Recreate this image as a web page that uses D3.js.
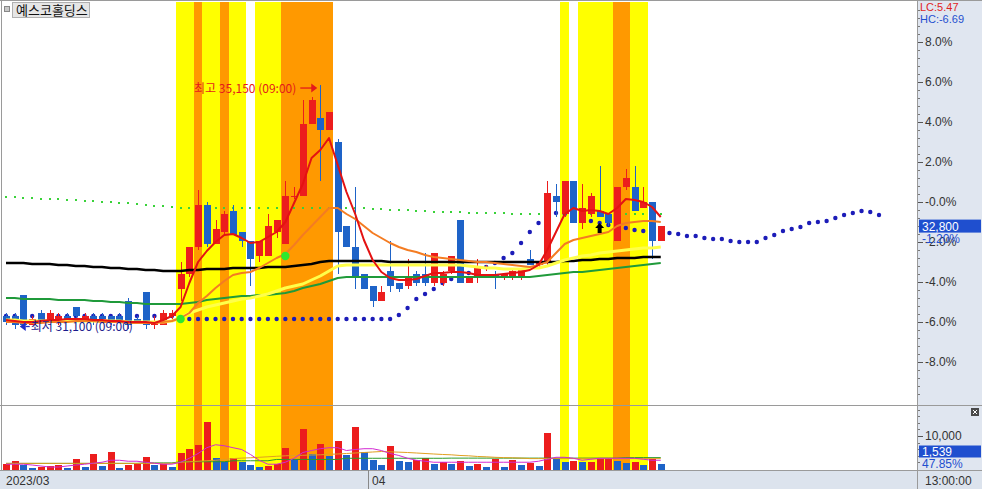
<!DOCTYPE html>
<html><head><meta charset="utf-8">
<script src="https://cdn.jsdelivr.net/npm/d3@7/dist/d3.min.js"></script>
<style>
html,body{margin:0;padding:0;background:#fff;overflow:hidden}
svg{display:block}
text{font-family:"Liberation Sans","Noto Sans CJK KR",sans-serif}
</style></head>
<body>
<svg id="chart" width="982" height="489"></svg>
<script>
const stockName = "예스코홀딩스";
const basePrice = 33200;
const lastPrice = 32800;
const lastVolume = 1539;
const lcText = "LC:5.47", hcText = "HC:-6.69";
const changeText = "-1.20%", volRatioText = "47.85%";
const timeLabel = "13:00:00";
const monthStarts = [{i:0, label:"2023/03"}, {i:42, label:"04"}];
const annTime = "(09:00)";

const opens = [31300,31300,31650,31150,31350,31200,31200,31300,31450,31250,31300,31300,31300,31300,31550,31250,31700,31150,31150,31300,
31750,32000,32450,33150,32500,32700,33050,32700,32550,32300,32300,32700,32500,33300,33300,34500,34600,34400,34200,32800,
32450,32000,31800,31550,32050,31850,31800,32000,32000,31850,31850,32050,32900,31850,31950,32100,32000,31950,31950,31950,
32250,32150,32200,33300,33000,33550,32850,33000,33050,33000,32550,33450,33450,33100,33200,32550];
const highs = [31350,31350,31650,31300,31400,31400,31350,31350,31450,31350,31350,31350,31300,31350,31600,31300,31700,31300,31400,31400,
32200,32450,33400,33200,32900,33050,33150,32700,32550,32550,33000,32900,33550,33450,34900,34950,35150,34700,34250,32800,
33450,32000,31800,31800,32550,31850,32250,32050,32350,32350,32050,32300,32900,31950,32250,32150,32050,32000,32100,32100,
32400,32200,33550,33500,33550,33550,33500,33350,33800,33000,33450,33750,33800,33450,33200,32800];
const lows = [31150,31100,31100,31150,31200,31200,31150,31250,31250,31250,31150,31200,31150,31200,31100,31200,31100,31100,31150,31250,
31550,31950,32400,32450,32500,32650,32650,32450,31800,32200,32300,32600,32500,33250,33300,34500,33550,34400,32000,32450,
31750,31750,31450,31550,31700,31700,31750,31800,31800,31800,31800,32000,31850,31850,31850,32050,31750,31900,31900,31900,
32150,32100,32150,32950,32950,32850,32750,32950,32950,32800,32550,33400,33050,33100,32250,32550];
const closes = [31200,31150,31150,31250,31200,31350,31300,31250,31300,31300,31200,31250,31200,31200,31150,31200,31150,31200,31350,31350,
32000,32450,33150,32500,32750,33000,32650,32550,32250,32550,32800,32900,33300,33300,34500,34900,34400,34700,32700,32450,
31950,31750,31550,31700,31800,31750,31950,31850,31850,32350,32000,32300,31850,31950,32100,32100,31950,32000,32050,32100,
32150,32200,33350,33200,33550,32850,33100,33300,32950,32850,33450,33600,33050,33200,32550,32800];
const volumes = [1400,2350,1200,400,500,1000,1200,400,2950,700,4600,900,5300,200,1200,1650,3500,1200,1400,700,
4900,6100,7250,14100,3350,2150,3350,2150,1200,500,1000,1400,6300,3150,12250,4600,7550,3900,8500,4100,
12650,5100,2650,1200,7050,2350,2150,2650,3400,1500,2150,1650,2350,900,1500,500,3150,500,2850,1200,
1950,900,10800,3350,2150,2300,2000,2200,3000,3200,2300,1700,2200,1300,3000,1539];
// 0 = none, 1 = yellow signal, 2 = orange signal
const signal = [0,0,0,0,0,0,0,0,0,0,0,0,0,0,0,0,0,0,0,0,
1,1,2,1,1,2,1,1,0,1,1,1,2,2,2,2,2,2,0,0,
0,0,0,0,0,0,0,0,0,0,0,0,0,0,0,0,0,0,0,0,
0,0,0,0,1,0,1,1,1,1,2,2,1,1,0,0];

// moving averages, read in % of base price (axis units)
const ma5Pct = [-5.90,-5.95,-6.00,-6.00,-5.95,-5.90,-5.90,-5.85,-5.85,-5.85,-5.90,-5.90,-5.95,-5.95,-6.00,-6.00,-6.00,-6.05,-5.90,-5.70,
-5.25,-4.05,-3.00,-2.45,-2.00,-1.65,-1.60,-1.80,-2.05,-2.00,-1.75,-1.50,-1.00,-0.05,0.90,2.20,2.60,3.20,1.85,0.50,
-0.60,-1.90,-2.90,-3.50,-3.80,-3.90,-3.90,-3.85,-3.70,-3.55,-3.55,-3.50,-3.50,-3.55,-3.65,-3.65,-3.65,-3.60,-3.55,-3.50,
-3.40,-3.15,-2.40,-1.50,-0.60,-0.30,-0.45,-0.40,-0.45,-0.60,-0.30,0.15,0.10,0.00,-0.25,-0.75];
const ma10Pct = [-6.00,-6.00,-6.05,-6.05,-6.05,-6.00,-6.00,-6.00,-5.95,-5.95,-5.95,-6.00,-6.00,-6.00,-6.05,-6.05,-6.05,-6.05,-6.00,-5.95,
-5.80,-5.55,-5.05,-4.70,-4.30,-3.95,-3.65,-3.55,-3.50,-3.30,-3.05,-2.80,-2.60,-2.15,-1.65,-1.20,-0.75,-0.30,-0.30,-0.60,
-0.85,-1.20,-1.55,-1.80,-2.05,-2.25,-2.40,-2.50,-2.65,-2.75,-2.80,-2.85,-2.90,-2.95,-3.00,-3.00,-3.05,-3.10,-3.15,-3.20,
-3.25,-3.15,-3.00,-2.55,-2.10,-1.90,-1.80,-1.70,-1.60,-1.50,-1.20,-1.05,-1.00,-0.95,-0.95,-1.00];
const ma20Pct = [-5.90,-5.90,-5.95,-5.95,-5.95,-5.95,-5.95,-5.95,-5.95,-5.95,-5.95,-5.95,-5.95,-5.95,-6.00,-6.00,-6.00,-6.00,-6.00,-5.95,
-5.80,-5.55,-5.40,-5.25,-5.15,-5.05,-4.95,-4.85,-4.80,-4.70,-4.60,-4.45,-4.30,-4.20,-4.10,-3.90,-3.70,-3.45,-3.20,-3.15,
-3.15,-3.15,-3.15,-3.15,-3.15,-3.15,-3.15,-3.15,-3.15,-3.15,-3.15,-3.15,-3.15,-3.20,-3.25,-3.30,-3.30,-3.35,-3.35,-3.35,
-3.30,-3.30,-3.20,-3.05,-2.90,-2.80,-2.70,-2.65,-2.55,-2.50,-2.45,-2.40,-2.35,-2.30,-2.30,-2.25];
const ma60Pct = [-4.80,-4.80,-4.85,-4.85,-4.85,-4.85,-4.90,-4.90,-4.90,-4.90,-4.95,-4.95,-5.00,-5.00,-5.05,-5.05,-5.10,-5.10,-5.10,-5.10,
-5.10,-5.05,-5.00,-4.90,-4.85,-4.80,-4.75,-4.70,-4.70,-4.65,-4.65,-4.60,-4.55,-4.45,-4.30,-4.20,-4.10,-3.95,-3.80,-3.75,
-3.75,-3.75,-3.75,-3.75,-3.75,-3.75,-3.75,-3.75,-3.75,-3.75,-3.75,-3.75,-3.75,-3.75,-3.75,-3.75,-3.75,-3.75,-3.75,-3.75,
-3.75,-3.70,-3.65,-3.60,-3.55,-3.50,-3.50,-3.45,-3.40,-3.35,-3.30,-3.25,-3.20,-3.15,-3.10,-3.05];
const ma120Pct = [-3.05,-3.05,-3.05,-3.10,-3.10,-3.10,-3.15,-3.15,-3.20,-3.20,-3.25,-3.25,-3.30,-3.30,-3.35,-3.35,-3.40,-3.40,-3.45,-3.45,
-3.45,-3.40,-3.40,-3.35,-3.35,-3.35,-3.30,-3.30,-3.30,-3.30,-3.25,-3.25,-3.25,-3.20,-3.15,-3.10,-3.00,-2.95,-2.95,-2.95,
-2.95,-2.95,-2.95,-2.95,-3.00,-3.00,-3.00,-3.00,-3.00,-3.00,-3.00,-3.00,-3.00,-3.00,-3.00,-3.00,-3.00,-3.00,-3.00,-3.00,
-3.00,-3.00,-3.00,-3.00,-2.95,-2.95,-2.90,-2.90,-2.85,-2.85,-2.80,-2.80,-2.80,-2.75,-2.75,-2.75];
const greenDotPct = [0.25,0.23,0.21,0.19,0.17,0.15,0.13,0.11,0.09,0.07,0.05,0.02,-0.01,-0.04,-0.07,-0.10,-0.14,-0.18,-0.22,-0.26,
-0.30,-0.30,-0.30,-0.30,-0.30,-0.30,-0.30,-0.30,-0.30,-0.30,-0.30,-0.30,-0.30,-0.30,-0.30,-0.30,-0.30,-0.30,-0.30,-0.30,
-0.30,-0.32,-0.34,-0.36,-0.38,-0.40,-0.42,-0.44,-0.46,-0.48,-0.50,-0.51,-0.52,-0.53,-0.54,-0.55,-0.56,-0.57,-0.58,-0.59,
-0.60,-0.60,-0.60,-0.60,-0.60,-0.60,-0.60,-0.60,-0.60,-0.60,-0.60,-0.60,-0.60,-0.60,-0.60,-0.60];
const blueDotPct = [-5.70,-5.70,-5.70,-5.70,-5.70,-5.70,-5.70,-5.70,-5.70,-5.70,-5.70,-5.70,-5.70,-5.70,-5.70,-5.70,-5.70,-5.70,-5.70,-5.70,
-5.85,-5.85,-5.85,-5.85,-5.85,-5.85,-5.85,-5.85,-5.85,-5.85,-5.85,-5.85,-5.85,-5.85,-5.85,-5.85,-5.85,-5.85,-5.85,-5.85,
-5.85,-5.85,-5.85,-5.85,-5.85,-5.65,-5.30,-4.85,-4.60,-4.35,-4.05,-3.85,-3.70,-3.55,-3.40,-3.25,-3.05,-2.80,-2.55,-2.05,
-1.50,-1.05,-0.70,-0.55,-0.60,-0.70,-0.80,-0.95,-1.05,-1.15,-1.25,-1.30,-1.40,-1.45,-1.50,-1.50,
-1.55,-1.60,-1.70,-1.70,-1.80,-1.85,-1.85,-1.95,-2.00,-2.00,-2.00,-1.80,-1.65,-1.45,-1.35,-1.25,-1.05,-1.00,-0.95,-0.80,
-0.65,-0.55,-0.45,-0.50,-0.65];
const greenSignals = [{i:20, pct:-5.85}, {i:32, pct:-2.70}];
const arrowSignals = [{i:68, pct:-1.05}];

// volume moving averages (shares)
const volMa5 = [1450,1450,1450,1200,900,600,600,900,1200,1450,1750,2050,2650,2650,2350,2350,2050,1750,1450,1450,
2050,3250,4700,6450,7350,7050,6450,5900,4400,2650,1450,1450,2050,3250,5000,5600,6150,6450,6450,5600,
5900,6150,6150,5600,4700,4100,3250,2650,2350,2050,2050,2050,2050,2050,2050,2050,2050,2050,2050,2050,
2050,2350,2950,3550,3550,3250,2650,2950,3250,3250,3250,3250,3250,2950,2650,2650];
const volMa20 = [1700,1700,1700,1700,1700,1700,1700,1700,1700,1700,1700,1700,1700,1700,1700,1700,1700,1700,1700,1700,
2050,2200,2350,2500,2650,2900,3150,3300,3400,3550,3700,3850,4000,4100,4150,4250,4300,4450,4550,4700,
4850,5000,5150,5300,5200,5100,5000,4850,4700,4550,4400,4300,4100,4000,3800,3700,3550,3450,3400,3300,
3150,3150,3150,3150,3150,3150,3150,3150,3150,3150,3150,3150,3150,3150,3150,3150];
const volMa60 = [1700,1700,1700,1700,1700,1700,1700,1700,1700,1700,1700,1700,1700,1700,1700,1700,1850,1850,1850,1850,
2200,2200,2200,2200,2200,2200,2500,2500,2500,2500,2500,2900,2900,2900,2900,2900,2900,2900,2900,3250,
3250,3250,3250,3250,3250,3250,3250,3250,3250,3250,3250,3300,3300,3300,3300,3300,3300,3300,3300,3300,
3300,3300,3300,3300,3300,3300,3300,3300,3300,3300,3300,3450,3450,3450,3450,3450];

const pctTicks = [8,6,4,2,0,-2,-4,-6,-8];
const pctTickLabels = ["8.0%","6.0%","4.0%","2.0%","-0.0%","-2.0%","-4.0%","-6.0%","-8.0%"];
const volTicks = [10000];
const volTickLabels = ["10,000"];

// ---------- drawing ----------
const W = 982, H = 489;
const R = 917, PT = 2, PB = 405, VT = 406, VB = 469, AT = 470;
const RED = "#ec1d1d", BLUE = "#1e63c8", NAVY = "#1c1cb8", AXBG = "#e0e6f0";
const svg = d3.select("#chart");

const x = d3.scaleLinear().domain([0, 100]).range([6, 879]);
const step = x(1) - x(0);
const yPct = d3.scaleLinear().domain([-10, 10]).range([402, 2]);
const pctOf = p => (p / basePrice - 1) * 100;
const yP = p => yPct(pctOf(p));
const yV = d3.scaleLinear().domain([0, 10000]).range([VB, 436]);
const N = closes.length;
const idx = d3.range(N);
const fmt = d3.format(",");

svg.append("rect").attr("width", W).attr("height", H).attr("fill", "#fff");
svg.append("rect").attr("x", R + 1).attr("y", 0).attr("width", W - R - 1).attr("height", H).attr("fill", AXBG);
svg.append("rect").attr("x", 0).attr("y", AT).attr("width", W).attr("height", H - AT).attr("fill", "#dce3ed");

const defs = svg.append("defs");
defs.append("clipPath").attr("id", "cp").append("rect").attr("x", 2).attr("y", PT).attr("width", R - 2).attr("height", PB - PT);
defs.append("clipPath").attr("id", "cv").append("rect").attr("x", 2).attr("y", VT).attr("width", R - 2).attr("height", VB - VT + 1);

// signal bands
const bandColor = {1: "#ffff00", 2: "#ff9900"};
const gBand = svg.append("g").attr("shape-rendering", "crispEdges");
idx.filter(i => signal[i] > 0).forEach(i => {
  const x0 = Math.round(x(i) - step / 2), x1 = Math.round(x(i) + step / 2);
  gBand.append("rect").attr("x", x0).attr("y", PT).attr("width", x1 - x0).attr("height", PB - PT).attr("fill", bandColor[signal[i]]);
  gBand.append("rect").attr("x", x0).attr("y", VT).attr("width", x1 - x0).attr("height", VB - VT + 1).attr("fill", bandColor[signal[i]]);
});

const gP = svg.append("g").attr("clip-path", "url(#cp)");
// dotted indicators (under candles)
gP.append("g").selectAll("rect").data(greenDotPct).join("rect")
  .attr("x", (d, i) => Math.round(x(i)) - 1).attr("y", d => Math.round(yPct(d)) - 1)
  .attr("width", 2).attr("height", 2).attr("fill", "#39d239");
gP.append("g").selectAll("circle").data(blueDotPct).join("circle")
  .attr("cx", (d, i) => x(i)).attr("cy", d => yPct(d)).attr("r", 2.2).attr("fill", NAVY);

// candles
const gC = gP.append("g").attr("shape-rendering", "crispEdges");
idx.forEach(i => {
  const cx = Math.round(x(i));
  const col = closes[i] >= opens[i] ? RED : BLUE;
  const yh = Math.round(yP(highs[i])), yl = Math.round(yP(lows[i]));
  gC.append("rect").attr("x", cx).attr("y", yh).attr("width", 1).attr("height", Math.max(1, yl - yh)).attr("fill", col);
  const yo = yP(opens[i]), yc = yP(closes[i]);
  const top = Math.round(Math.min(yo, yc)), hgt = Math.max(1, Math.round(Math.abs(yo - yc)));
  gC.append("rect").attr("x", cx - 3).attr("y", top).attr("width", 7).attr("height", hgt).attr("fill", col);
});

// moving-average lines (over candles)
const line = d3.line().x((d, i) => x(i)).y(d => yPct(d));
[[ma120Pct, "#000000", 2.4], [ma60Pct, "#1f9a3a", 2], [ma20Pct, "#ffff4a", 3], [ma10Pct, "#f47c22", 2], [ma5Pct, "#e41212", 2]]
  .forEach(([data, col, w]) => {
    gP.append("path").datum(data).attr("d", line).attr("fill", "none").attr("stroke", col).attr("stroke-width", w).attr("stroke-linejoin", "round");
  });

// signal markers
gP.append("g").selectAll("path").data(greenSignals).join("path")
  .attr("d", d3.symbol(d3.symbolCircle, 55)).attr("transform", d => `translate(${x(d.i)},${yPct(d.pct)})`)
  .attr("fill", "#2ee82e");
arrowSignals.forEach(s => {
  const ax = x(s.i), ay = yPct(s.pct);
  gP.append("path").attr("d", `M${ax},${ay} L${ax + 4.5},${ay + 5} L${ax + 2},${ay + 5} L${ax + 2},${ay + 10} L${ax - 2},${ay + 10} L${ax - 2},${ay + 5} L${ax - 4.5},${ay + 5} Z`)
    .attr("fill", "#000");
});

// high / low annotations
const iMax = d3.maxIndex(highs), iMin = d3.minIndex(lows);
const hx = x(iMax), hy = yP(highs[iMax]) + 3.5;
gP.append("text").attr("x", hx - 24).attr("y", hy + 4.5).attr("text-anchor", "end")
  .attr("font-size", 12).attr("fill", "#e41a1a").style("font-family", "'Noto Sans CJK KR'")
  .text(`최고 ${fmt(highs[iMax])} ${annTime}`);
gP.append("line").attr("x1", hx - 20).attr("x2", hx - 7).attr("y1", hy).attr("y2", hy).attr("stroke", "#e41a1a").attr("stroke-width", 1.3);
gP.append("path").attr("d", `M${hx - 3},${hy} L${hx - 9},${hy - 4.5} L${hx - 9},${hy + 4.5} Z`).attr("fill", "#e41a1a");
const lx = x(iMin) + 5, ly = yP(lows[iMin]) - 2;
gP.append("path").attr("d", `M${lx},${ly} L${lx + 6},${ly - 4.5} L${lx + 6},${ly + 4.5} Z`).attr("fill", "#2030c8");
gP.append("line").attr("x1", lx + 6).attr("x2", lx + 10).attr("y1", ly).attr("y2", ly).attr("stroke", "#2030c8").attr("stroke-width", 1.3);
gP.append("text").attr("x", lx + 11).attr("y", ly + 4.5).attr("font-size", 12).attr("fill", "#1a1a8c")
  .style("font-family", "'Noto Sans CJK KR'").text(`최저 ${fmt(lows[iMin])} ${annTime}`);

// volume panel
const gV = svg.append("g").attr("clip-path", "url(#cv)");
gV.append("g").attr("shape-rendering", "crispEdges").selectAll("rect").data(volumes).join("rect")
  .attr("x", (d, i) => Math.round(x(i)) - 3).attr("y", d => Math.round(yV(d)))
  .attr("width", 7).attr("height", d => VB + 1 - Math.round(yV(d)))
  .attr("fill", (d, i) => (i === 0 || d >= volumes[i - 1]) ? RED : BLUE);
const vline = d3.line().x((d, i) => x(i)).y(d => yV(d));
[[volMa60, "#2a9a2a"], [volMa20, "#e0a020"], [volMa5, "#d22ad2"]].forEach(([data, col]) => {
  gV.append("path").datum(data).attr("d", vline).attr("fill", "none").attr("stroke", col).attr("stroke-width", 1);
});

// frame lines
const gF = svg.append("g").attr("shape-rendering", "crispEdges").attr("stroke", "#9a9a9a");
gF.append("line").attr("x1", 0).attr("x2", W).attr("y1", PB + 0.5).attr("y2", PB + 0.5);
gF.append("line").attr("x1", 0).attr("x2", W).attr("y1", AT + 0.5).attr("y2", AT + 0.5);
gF.append("line").attr("x1", R + 0.5).attr("x2", R + 0.5).attr("y1", 0).attr("y2", H);
gF.append("line").attr("x1", 1.5).attr("x2", 1.5).attr("y1", 0).attr("y2", AT);
gF.append("line").attr("x1", 0).attr("x2", W).attr("y1", 0.5).attr("y2", 0.5);

// price axis
const yAx = svg.append("g").attr("transform", `translate(${R + 1},0)`)
  .call(d3.axisRight(yPct).tickValues(pctTicks).tickSize(5).tickPadding(2).tickFormat((d, i) => pctTickLabels[i]));
yAx.select(".domain").remove();
yAx.selectAll("line").attr("stroke", "#555");
yAx.selectAll("text").attr("font-size", 12).attr("fill", "#333").style("font-family", "'Liberation Sans'");
const minor = d3.range(-9.6, 10, 0.4).filter(v => Math.abs(v / 2 - Math.round(v / 2)) > 0.01);
svg.append("g").selectAll("line").data(minor).join("line")
  .attr("x1", R + 1).attr("x2", R + 3).attr("y1", d => Math.round(yPct(d)) + 0.5).attr("y2", d => Math.round(yPct(d)) + 0.5)
  .attr("stroke", "#777");

// volume axis
const vAx = svg.append("g").attr("transform", `translate(${R + 1},0)`)
  .call(d3.axisRight(yV).tickValues(volTicks).tickSize(5).tickPadding(2).tickFormat((d, i) => volTickLabels[i]));
vAx.select(".domain").remove();
vAx.selectAll("line").attr("stroke", "#555");
vAx.selectAll("text").attr("font-size", 12).attr("fill", "#333").style("font-family", "'Liberation Sans'");
svg.append("g").selectAll("line").data(d3.range(2000, 18001, 2000).filter(v => v !== 10000 && yV(v) > VT + 2))
  .join("line").attr("x1", R + 1).attr("x2", R + 3).attr("y1", d => Math.round(yV(d)) + 0.5).attr("y2", d => Math.round(yV(d)) + 0.5)
  .attr("stroke", "#777");

// current price & volume boxes
const cy = yP(lastPrice);
svg.append("rect").attr("x", R + 2).attr("y", cy - 6.5).attr("width", W - R - 3).attr("height", 13).attr("fill", "#1f4fcf");
svg.append("text").attr("x", R + 5).attr("y", cy + 4.5).attr("font-size", 12).attr("fill", "#fff").text(fmt(lastPrice));
svg.append("text").attr("x", R + 5).attr("y", cy + 17).attr("font-size", 12).attr("fill", "#1f4fcf").text(changeText);
svg.append("rect").attr("x", R + 2).attr("y", 445.5).attr("width", W - R - 3).attr("height", 12).attr("fill", "#1f4fcf");
svg.append("text").attr("x", R + 5).attr("y", 455.5).attr("font-size", 12).attr("fill", "#fff").text(fmt(lastVolume));
svg.append("text").attr("x", R + 5).attr("y", 468).attr("font-size", 12).attr("fill", "#1f4fcf").text(volRatioText);
svg.append("text").attr("x", R + 3).attr("y", 10.5).attr("font-size", 11).attr("fill", "#e01e1e").text(lcText);
svg.append("text").attr("x", R + 3).attr("y", 22.5).attr("font-size", 11).attr("fill", "#1f4fcf").text(hcText);

// close icon in volume pane
svg.append("rect").attr("x", 971).attr("y", 408).attr("width", 8).attr("height", 8).attr("fill", "#4a4a4a");
svg.append("path").attr("d", "M973,410 L977,414 M977,410 L973,414").attr("stroke", "#fff").attr("stroke-width", 1);

// time axis
monthStarts.forEach(m => {
  const tx = Math.round(x(m.i) - step / 2);
  if (m.i > 0) svg.append("line").attr("x1", tx + 0.5).attr("x2", tx + 0.5).attr("y1", AT).attr("y2", H).attr("stroke", "#888");
  svg.append("text").attr("x", Math.max(4, tx + 4)).attr("y", 485).attr("font-size", 12).attr("fill", "#333").text(m.label);
});
svg.append("text").attr("x", R + 8).attr("y", 485).attr("font-size", 12).attr("fill", "#333").text(timeLabel);

// title box
svg.append("rect").attr("x", 4.5).attr("y", 6.5).attr("width", 5).attr("height", 5).attr("fill", "#c8c8c8").attr("stroke", "#888");
svg.append("rect").attr("x", 12.5).attr("y", 2.5).attr("width", 77).attr("height", 15).attr("fill", "#e6e6e6").attr("stroke", "#b0b0b0");
svg.append("text").attr("x", 16).attr("y", 15).attr("font-size", 13).attr("fill", "#111")
  .style("font-family", "'Noto Sans CJK KR'").text(stockName);
</script>
</body></html>
